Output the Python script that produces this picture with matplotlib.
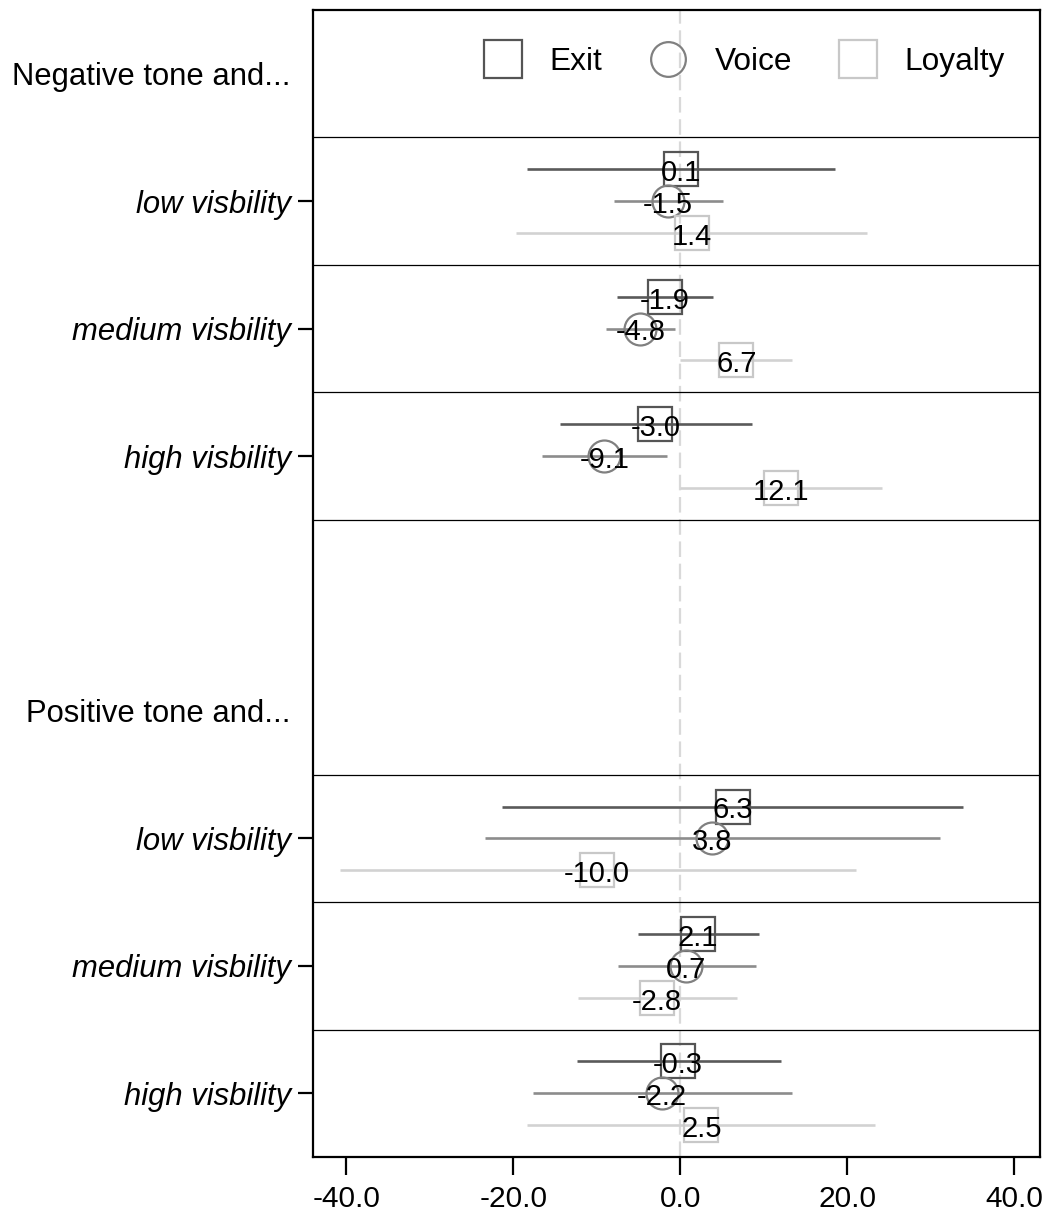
import matplotlib
matplotlib.use("Agg")
import matplotlib.pyplot as plt
from matplotlib.lines import Line2D

plt.rcParams["font.family"] = ["Liberation Sans", "DejaVu Sans"]

# row labels, top to bottom
row_labels = [
    "Negative tone and...", "low visbility", "medium visbility", "high visbility",
    "",
    "Positive tone and...", "low visbility", "medium visbility", "high visbility",
]
header_rows = [0, 4, 5]
data_rows = [1, 2, 3, 6, 7, 8]

# estimates and confidence bounds (one entry per data row)
exit_est = [0.1, -1.9, -3.0, 6.3, 2.1, -0.3]
exit_lo = [-18.4, -7.6, -14.4, -21.4, -5.1, -12.4]
exit_hi = [18.5, 3.9, 8.6, 33.8, 9.4, 12.0]

voice_est = [-1.5, -4.8, -9.1, 3.8, 0.7, -2.2]
voice_lo = [-8.0, -8.9, -16.6, -23.4, -7.5, -17.7]
voice_hi = [5.1, -0.6, -1.6, 31.1, 9.0, 13.4]

loyal_est = [1.4, 6.7, 12.1, -10.0, -2.8, 2.5]
loyal_lo = [-19.7, 0.0, 0.0, -40.7, -12.3, -18.4]
loyal_hi = [22.3, 13.4, 24.1, 21.0, 6.8, 23.3]

x_ticks = [-40, -20, 0, 20, 40]

series = [
    ("Exit", exit_est, exit_lo, exit_hi, -0.25, "s", "#555555", "#5a5a5a", 25),
    ("Voice", voice_est, voice_lo, voice_hi, 0.0, "o", "#808080", "#8c8c8c", 23),
    ("Loyalty", loyal_est, loyal_lo, loyal_hi, 0.25, "s", "#c8c8c8", "#d2d2d2", 25),
]

fig = plt.figure(figsize=(10.5, 12.16), dpi=100)
ax = fig.add_axes([0.298, 0.0485, 0.692, 0.9433])

ax.axvline(0, color="#d9d9d9", lw=1.6, dashes=(7, 3), zorder=1)

for b in [0.5, 1.5, 2.5, 3.5, 5.5, 6.5, 7.5]:
    ax.axhline(b, color="black", lw=0.9, zorder=1)

for name, est, lo, hi, off, mk, mcol, lcol, ms in series:
    ys = [r + off for r in data_rows]
    ax.hlines(ys, lo, hi, color=lcol, lw=1.9, zorder=2)
    ax.plot(est, ys, ls="none", marker=mk, ms=ms, mfc="none", mec=mcol,
            mew=1.6, zorder=3)
    for x, y in zip(est, ys):
        ax.text(x, y + 0.03, f"{x:.1f}", ha="center", va="center",
                fontsize=21, zorder=4)

ax.set_xlim(-44, 43)
ax.set_ylim(8.5, -0.5)
ax.set_xticks(x_ticks)
ax.set_xticklabels([f"{v:.1f}" for v in x_ticks], fontsize=21.5)
ax.set_yticks(range(len(row_labels)))
ax.set_yticklabels(row_labels, fontsize=22.3)
for i, lab in enumerate(ax.get_yticklabels()):
    if i not in header_rows:
        lab.set_style("italic")
for i, tk in enumerate(ax.yaxis.get_major_ticks()):
    if i in header_rows:
        tk.tick1line.set_visible(False)

ax.tick_params(axis="y", length=11, width=1.6, pad=5)
ax.tick_params(axis="x", length=13, width=1.6, pad=7)
for sp in ax.spines.values():
    sp.set_linewidth(1.6)

handles = [
    Line2D([], [], ls="none", marker=mk, ms=27 if mk == "s" else 25,
           mfc="none", mec=mcol, mew=1.6)
    for _, _, _, _, _, mk, mcol, _, ms in series
]
ax.legend(handles, [s[0] for s in series], loc="center right",
          bbox_to_anchor=(1.0, 0.955), ncol=3, frameon=False, fontsize=22.8,
          handletextpad=0.45, columnspacing=1.1, borderaxespad=0.7)

fig.savefig("out.png", dpi=100)
